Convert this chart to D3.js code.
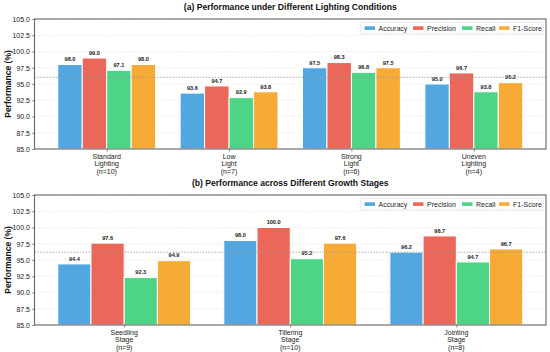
<!DOCTYPE html>
<html><head><meta charset="utf-8">
<script src="https://cdn.jsdelivr.net/npm/d3@7"></script>
<style>body{margin:0;background:#fff}svg{display:block;font-family:"Liberation Sans",Arial,sans-serif}</style>
</head><body><svg id="c" width="550" height="352"></svg>
<script>
const metrics = ["Accuracy","Precision","Recall","F1-Score"];
const colors = ["#3498db","#e74c3c","#2ecc71","#f39c12"];
const yTicks = [85.0,87.5,90.0,92.5,95.0,97.5,100.0,102.5,105.0];

const lightCats = [["Standard","Lighting","(n=10)"],["Low","Light","(n=7)"],["Strong","Light","(n=6)"],["Uneven","Lighting","(n=4)"]];
const lightAcc  = [98.0,93.6,97.5,95.0];
const lightPrec = [99.0,94.7,98.3,96.7];
const lightRec  = [97.1,92.9,96.8,93.8];
const lightF1   = [98.0,93.8,97.5,95.2];

const stageCats = [["Seedling","Stage","(n=9)"],["Tillering","Stage","(n=10)"],["Jointing","Stage","(n=8)"]];
const stageAcc  = [94.4,98.0,96.2];
const stagePrec = [97.6,100.0,98.7];
const stageRec  = [92.3,95.2,94.7];
const stageF1   = [94.9,97.6,96.7];

const svg = d3.select("#c");

function panel(title, cats, series, top, bottom) {
  const left = 34.5, right = 546;
  const n = cats.length;
  const bw = 0.2;
  const lo = -0.4, hi = n - 1 + 0.4, m = (hi - lo) * 0.05;
  const x = d3.scaleLinear().domain([lo - m, hi + m]).range([left, right]);
  const y = d3.scaleLinear().domain([85, 105]).range([bottom, top]);
  const g = svg.append("g");

  g.selectAll(".grid").data(yTicks).join("line")
    .attr("x1", left).attr("x2", right)
    .attr("y1", d => y(d)).attr("y2", d => y(d))
    .attr("stroke", "#e6e6e6").attr("stroke-width", 0.6).attr("stroke-dasharray", "2.5,1.2");

  series.forEach((vals, si) => {
    const off = (si - 1.5) * bw;
    g.selectAll(".b" + si).data(vals).join("rect")
      .attr("x", (d, i) => x(i + off - bw / 2))
      .attr("width", (d, i) => x(i + off + bw / 2) - x(i + off - bw / 2))
      .attr("y", d => y(d))
      .attr("height", d => y(85) - y(d))
      .attr("fill", colors[si]).attr("fill-opacity", 0.85)
      .attr("stroke", "#fff").attr("stroke-width", 1);
    g.selectAll(".t" + si).data(vals).join("text")
      .attr("x", (d, i) => x(i + off))
      .attr("y", d => y(d + 0.5))
      .attr("text-anchor", "middle")
      .attr("font-size", 5.6).attr("font-weight", "bold").attr("fill", "#222")
      .text(d => d.toFixed(1));
  });

  const mean = d3.mean(series[0]);
  g.append("line").attr("x1", left).attr("x2", right)
    .attr("y1", y(mean)).attr("y2", y(mean))
    .attr("stroke", "#999").attr("stroke-width", 0.8).attr("stroke-dasharray", "1.5,1.5");

  g.append("rect").attr("x", left).attr("y", top).attr("width", right - left).attr("height", bottom - top)
    .attr("fill", "none").attr("stroke", "#666").attr("stroke-width", 1.1);

  const ya = g.append("g").attr("transform", `translate(${left},0)`)
    .call(d3.axisLeft(y).tickValues(yTicks).tickFormat(d3.format(".1f")).tickSize(2.5).tickPadding(2));
  ya.select(".domain").remove();
  ya.selectAll("line").attr("stroke", "#444").attr("stroke-width", 0.6);
  ya.selectAll("text").attr("font-size", 7).attr("fill", "#222").attr("font-family", "Liberation Sans, Arial, sans-serif");

  const xa = g.append("g").attr("transform", `translate(0,${bottom})`)
    .call(d3.axisBottom(x).tickValues(d3.range(n)).tickSize(2.5).tickFormat(""));
  xa.select(".domain").remove();
  xa.selectAll("line").attr("stroke", "#444").attr("stroke-width", 0.6);
  cats.forEach((lines, i) => {
    const t = g.append("text").attr("x", x(i)).attr("y", bottom + 9.5)
      .attr("text-anchor", "middle").attr("font-size", 7).attr("fill", "#222");
    lines.forEach((l, k) => t.append("tspan").attr("x", x(i)).attr("dy", k ? 7.6 : 0).text(l));
  });

  g.append("text").attr("transform", `translate(8,${(top + bottom) / 2}) rotate(-90)`)
    .attr("text-anchor", "middle").attr("dominant-baseline", "central")
    .attr("font-size", 8.5).attr("font-weight", "bold").attr("fill", "#111").text("Performance (%)");

  g.append("text").attr("x", (left + right) / 2).attr("y", top - 9)
    .attr("text-anchor", "middle").attr("font-size", 8.6).attr("font-weight", "bold").attr("fill", "#111").text(title);

  const lx = 361, ly = top + 3.3;
  const lg = g.append("g");
  lg.append("rect").attr("x", lx).attr("y", ly).attr("width", 182).attr("height", 11.5).attr("rx", 1.5)
    .attr("fill", "#fff").attr("fill-opacity", 0.9).attr("stroke", "#d5d5d5").attr("stroke-width", 0.6);
  const px = [3.5, 52, 101, 138];
  metrics.forEach((mname, i) => {
    lg.append("rect").attr("x", lx + px[i]).attr("y", ly + 4).attr("width", 10.5).attr("height", 3.6)
      .attr("fill", colors[i]).attr("fill-opacity", 0.85);
    lg.append("text").attr("x", lx + px[i] + 14).attr("y", ly + 8.3)
      .attr("font-size", 7).attr("fill", "#222").text(mname);
  });
}

panel("(a) Performance under Different Lighting Conditions", lightCats, [lightAcc, lightPrec, lightRec, lightF1], 19, 149);
panel("(b) Performance across Different Growth Stages", stageCats, [stageAcc, stagePrec, stageRec, stageF1], 195, 325);
</script></body></html>
